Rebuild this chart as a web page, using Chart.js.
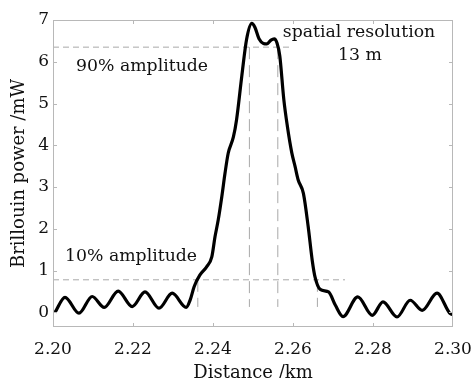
<!DOCTYPE html>
<html>
<head>
<meta charset="utf-8">
<script src="https://cdn.jsdelivr.net/npm/chart.js@4"></script>
<style>
  html, body { margin: 0; padding: 0; background: #fff; }
  canvas { display: block; }
</style>
</head>
<body>
<canvas id="chart" width="474" height="378"></canvas>
<script>
// Brillouin power along the fibre (km, mW)
const distance = [
  2.2005, 2.2030, 2.2065, 2.2098, 2.2128, 2.2163, 2.2198, 2.2230, 2.2265, 2.2298,
  2.2333, 2.2343, 2.2353, 2.2367, 2.2384, 2.2397, 2.2405, 2.2413, 2.2422, 2.2430,
  2.2438, 2.2451, 2.2459, 2.2472, 2.2484, 2.2497, 2.2505, 2.2515, 2.2526, 2.2535,
  2.2545, 2.2553, 2.2560, 2.2567, 2.2577, 2.2586, 2.2597, 2.2605, 2.2613, 2.2626,
  2.2638, 2.2648, 2.2655, 2.2668, 2.2689, 2.2706, 2.2725, 2.2762, 2.2798, 2.2825,
  2.2860, 2.2893, 2.2923, 2.2960, 2.2993, 2.3000
];
const power = [
  0.00, 0.36, -0.02, 0.38, 0.12, 0.51, 0.14, 0.49, 0.10, 0.46,
  0.12, 0.30, 0.62, 0.89, 1.09, 1.33, 1.81, 2.21, 2.77, 3.33,
  3.81, 4.20, 4.62, 5.66, 6.54, 6.92, 6.82, 6.55, 6.44, 6.43,
  6.52, 6.55, 6.45, 6.14, 5.10, 4.45, 3.82, 3.50, 3.17, 2.85,
  2.05, 1.25, 0.85, 0.55, 0.49, 0.17, -0.10, 0.37, -0.07, 0.25,
  -0.11, 0.29, 0.05, 0.46, -0.03, -0.05
];

// amplitude levels and where the curve crosses them
const level90 = 6.35;
const level10 = 0.78;
const cross10 = [2.2362, 2.2661];
const cross90 = [2.2491, 2.2562];
const dropFoot = 0.13;
const line90End = 2.2593;
const line10End = 2.2730;

const xTicks = [2.20, 2.22, 2.24, 2.26, 2.28, 2.30];
const yTicks = [0, 1, 2, 3, 4, 5, 6, 7];

const FONT = "'DejaVu Serif', 'Liberation Serif', serif";
const dashStyle = { borderColor: '#a8a8a8', borderWidth: 1, borderDash: [6, 4], pointRadius: 0, tension: 0 };

const refLines = [
  { data: [{ x: 2.20, y: level90 }, { x: line90End, y: level90 }] },
  { data: [{ x: 2.20, y: level10 }, { x: line10End, y: level10 }] },
  ...cross90.map(x => ({ data: [{ x: x, y: level90 }, { x: x, y: dropFoot }], borderDash: [12, 6] })),
  ...cross10.map(x => ({ data: [{ x: x, y: level10 }, { x: x, y: dropFoot }], borderDash: [12, 6] }))
].map(d => Object.assign({}, dashStyle, d));

// frame, inward ticks and the text notes
const framePlugin = {
  id: 'frame',
  afterDraw(chart) {
    const { ctx, chartArea: a, scales } = chart;
    ctx.save();
    ctx.strokeStyle = '#b8b8b8';
    ctx.lineWidth = 1;
    ctx.strokeRect(a.left + 0.5, a.top + 0.5, a.right - a.left - 1, a.bottom - a.top - 1);
    ctx.beginPath();
    xTicks.slice(1, -1).forEach(v => {
      const px = Math.round(scales.x.getPixelForValue(v)) + 0.5;
      ctx.moveTo(px, a.bottom); ctx.lineTo(px, a.bottom - 4);
      ctx.moveTo(px, a.top); ctx.lineTo(px, a.top + 4);
    });
    yTicks.slice(0, -1).forEach(v => {
      const py = Math.round(scales.y.getPixelForValue(v)) + 0.5;
      ctx.moveTo(a.left, py); ctx.lineTo(a.left + 4, py);
      ctx.moveTo(a.right, py); ctx.lineTo(a.right - 4, py);
    });
    ctx.stroke();

    ctx.fillStyle = '#111';
    ctx.font = '17.3px ' + FONT;
    ctx.textBaseline = 'middle';
    ctx.textAlign = 'left';
    ctx.fillText('90% amplitude', 76, 67);
    ctx.fillText('10% amplitude', 65, 257);
    ctx.textAlign = 'center';
    ctx.fillText('spatial resolution', 359, 33);
    ctx.fillText('13 m', 360, 56);
    ctx.restore();
  }
};

new Chart(document.getElementById('chart'), {
  type: 'line',
  data: {
    datasets: [
      {
        data: distance.map((x, i) => ({ x: x, y: power[i] })),
        borderColor: '#000',
        borderWidth: 3.2,
        pointRadius: 0,
        tension: 0.4,
        cubicInterpolationMode: 'monotone'
      },
      ...refLines
    ]
  },
  options: {
    responsive: false,
    animation: false,
    layout: { padding: { top: 20, right: 21, left: 0, bottom: 0 } },
    plugins: { legend: { display: false }, tooltip: { enabled: false } },
    scales: {
      x: {
        type: 'linear',
        min: 2.20,
        max: 2.30,
        afterBuildTicks: s => { s.ticks = xTicks.map(v => ({ value: v })); },
        afterFit: s => { s.height = 51; s.paddingLeft = 0; s.paddingRight = 0; },
        grid: { display: false, drawTicks: false },
        border: { display: false },
        ticks: {
          color: '#111',
          font: { family: FONT, size: 17 },
          padding: 12,
          maxRotation: 0,
          callback: v => v.toFixed(2)
        },
        title: {
          display: true,
          text: 'Distance /km',
          color: '#111',
          font: { family: FONT, size: 18 },
          padding: { top: 0, bottom: -6 }
        }
      },
      y: {
        min: -0.35,
        max: 7,
        afterBuildTicks: s => { s.ticks = yTicks.map(v => ({ value: v })); },
        afterFit: s => { s.width = 53; },
        grid: { display: false, drawTicks: false },
        border: { display: false },
        ticks: {
          color: '#111',
          font: { family: FONT, size: 17 },
          padding: 4
        },
        title: {
          display: true,
          text: 'Brillouin power /mW',
          color: '#111',
          font: { family: FONT, size: 18 },
          padding: { top: 9, bottom: 0 }
        }
      }
    }
  },
  plugins: [framePlugin]
});
</script>
</body>
</html>
